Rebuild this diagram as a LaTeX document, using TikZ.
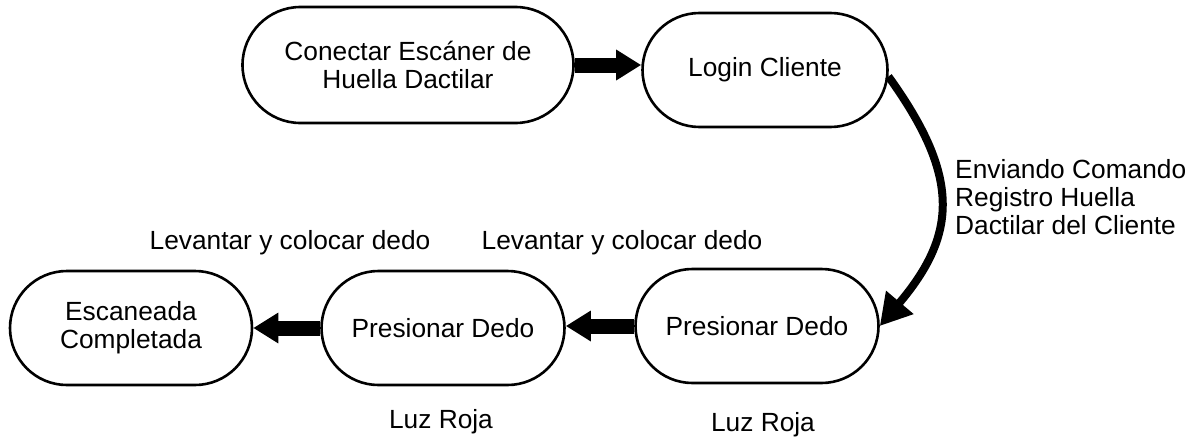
\documentclass[tikz,border=0pt]{standalone}
\usepackage{fontspec}
\setmainfont{Liberation Sans}
\usetikzlibrary{shapes.misc,arrows.meta}
\begin{document}
\begin{tikzpicture}[x=1pt,y=-1pt,
    state/.style={draw,line width=2.6pt,rounded rectangle,minimum height=114pt,
      inner sep=0pt,align=center,font=\fontsize{26.3}{28}\selectfont},
    lbl/.style={inner sep=0pt,align=left,font=\fontsize{26.3}{28}\selectfont},
    fat/.style={line width=15pt,-{Triangle[length=25pt,width=29pt]}}]
  \useasboundingbox (0,0) rectangle (1193,439);
      \draw
        (408,65) node[state,minimum width=331pt,minimum height=116pt] (0){Conectar Escáner de\\Huella Dactilar}
        (765,70) node[state,minimum width=245pt] (1){Login Cliente}
        (757,326) node[state,minimum width=243pt] (2){Presionar Dedo}
        (443,328) node[state,minimum width=243pt] (3){Presionar Dedo}
        (131,328) node[state,minimum width=242pt] (4){Escaneada\\Completada};
      \draw
        (290,243) node[lbl] (5){Levantar y colocar dedo}
        (622,243) node[lbl] (6){Levantar y colocar dedo}
        (441,422) node[lbl] (7){Luz Roja}
        (763,425) node[lbl] (8){Luz Roja}
        (955,197) node[lbl,anchor=west] (9){Enviando Comando\\Registro Huella\\Dactilar del Cliente};
      \begin{scope}[fat]
        \draw (0.east) to (0.east -| 1.west);
        \draw (2.west) to (2.west -| 3.east);
        \draw (3.west) to (3.west -| 4.east);
      \end{scope}
      \draw[line width=8pt,-{Triangle[length=31pt,width=34pt]}]
        (1.-3) .. controls +(72,100) and +(78,-92) .. (2.east);
    \end{tikzpicture}
\end{document}
